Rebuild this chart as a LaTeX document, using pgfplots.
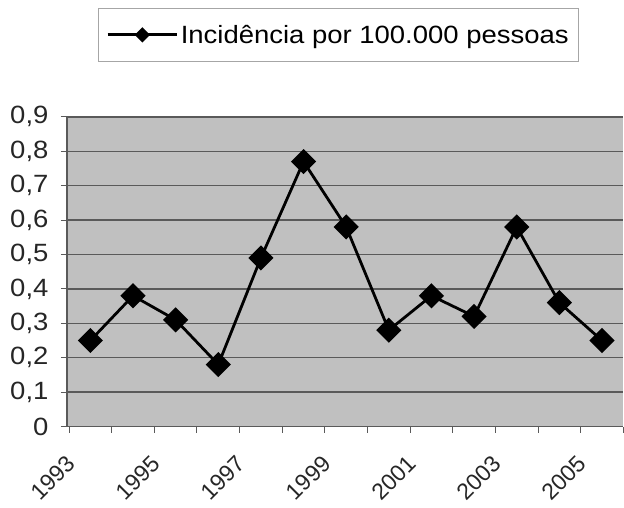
\documentclass[border=0pt]{standalone}
\usepackage{pgfplots}
\pgfplotsset{compat=1.18}
\usepackage{fontspec}
\setmainfont[FakeStretch=1.1]{Liberation Sans}
\newfontfamily\xlabfont{Liberation Sans}
\definecolor{plotbg}{RGB}{192,192,192}
\definecolor{gridc}{RGB}{90,90,90}
\begin{document}
\begin{tikzpicture}
\pgfplotstableread{
x val
0 0.25
1 0.38
2 0.31
3 0.18
4 0.49
5 0.77
6 0.58
7 0.28
8 0.38
9 0.32
10 0.58
11 0.36
12 0.25
}\datatable
\begin{axis}[
  scale only axis,
  width=557bp, height=310bp,
  xmin=-0.55, xmax=12.5,
  ymin=0, ymax=0.9,
  axis background/.style={fill=plotbg},
  axis x line*=bottom, axis y line*=left,
  axis line style={gridc, line width=1.2bp},
  xtick={0,2,4,6,8,10,12},
  xticklabels={1993,1995,1997,1999,2001,2003,2005},
  minor xtick={-0.5,0.5,...,12.5},
  major x tick style={draw=none},
  minor x tick style={gridc, line width=1bp},
  minor tick length=6bp,
  ytick={0,0.1,...,0.9},
  y tick style={gridc, line width=1bp},
  major tick length=6bp,
  tick align=outside,
  ymajorgrids,
  major grid style={gridc, line width=1.4bp},
  /pgf/number format/assume math mode=true,
  /pgf/number format/use comma,
  /pgf/number format/fixed,
  /pgf/number format/precision=1,
  y tick label style={font=\fontsize{25bp}{29bp}\selectfont, text=black!85, xshift=-9bp},
  x tick label style={font=\xlabfont\fontsize{23bp}{27bp}\selectfont, text=black!85,
    rotate=45, anchor=north east, xshift=-30bp, yshift=6bp},
  legend style={at={(0.0557,1.352)}, anchor=north west, draw=gray!70,
    font=\fontsize{25bp}{29bp}\selectfont, inner xsep=8bp, inner ysep=15bp,
    legend cell align=left, /tikz/every even column/.append style={column sep=8bp}},
  legend image code/.code={
    \draw[mark repeat=2, mark phase=2, #1, mark size=4bp] plot coordinates {(0bp,0bp) (35bp,0bp) (70bp,0bp)};
  },
  clip=false,
]
\addplot[black, line width=2.8bp, mark=square*, mark size=7.5bp,
  mark options={rotate=45, fill=black, solid}] table[x=x, y=val] {\datatable};
\addlegendentry{Incidência por 100.000 pessoas\hspace{12bp}}
\end{axis}
\path[use as bounding box] (-67bp,-81bp) rectangle (557bp,427bp);
\end{tikzpicture}
\end{document}
